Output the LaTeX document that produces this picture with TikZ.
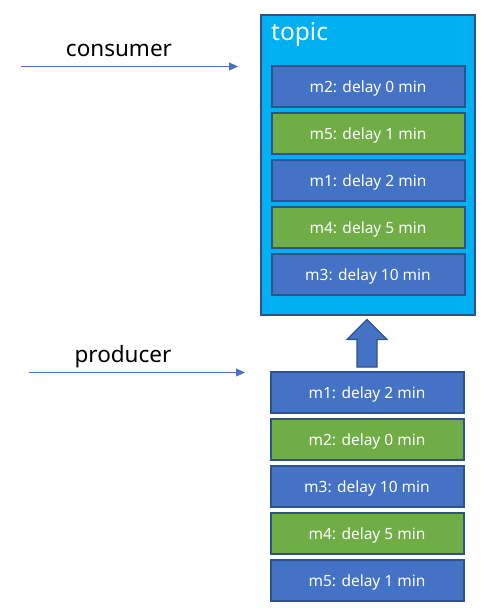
\documentclass[tikz,border=0pt]{standalone}
\usepackage{fontspec}
\setmainfont{Noto Sans}
\usetikzlibrary{arrows.meta}
\definecolor{topicfill}{HTML}{00B0F0}
\definecolor{edgeblue}{HTML}{2F528F}
\definecolor{msgblue}{HTML}{4472C4}
\definecolor{msggreen}{HTML}{70AD47}
\begin{document}
\begin{tikzpicture}[x=1pt,y=-1pt,
  msg/.style={draw=edgeblue,line width=2pt,minimum width=193pt,minimum height=41pt,inner sep=0pt,
    text depth=0pt,text=white,font=\fontsize{15.5}{17}\selectfont},
  bluemsg/.style={msg,fill=msgblue},
  greenmsg/.style={msg,fill=msggreen},
  flow/.style={draw=msgblue,line width=1pt,-{Triangle[length=9pt,width=8pt]}},
  lbl/.style={font=\fontsize{22.5}{26}\selectfont,text=black,inner sep=0pt}]
\useasboundingbox (0,0) rectangle (486,611);
% topic container
\node[draw=edgeblue,fill=topicfill,line width=2pt,minimum width=214pt,minimum height=300pt,inner sep=0pt] (topic) at (367.5,164.5) {};
\node[anchor=base west,inner sep=0pt,text=white,font=\fontsize{24.5}{28}\selectfont] (topiclbl) at (271,40) {topic};
% topic messages
\node[bluemsg]  (t1) at (368,86.5)  {m2: delay 0 min};
\node[greenmsg] (t2) at (368,133.5) {m5: delay 1 min};
\node[bluemsg]  (t3) at (368,180.5) {m1: delay 2 min};
\node[greenmsg] (t4) at (368,227.5) {m4: delay 5 min};
\node[bluemsg]  (t5) at (368,274.5) {m3: delay 10 min};
% producer messages
\node[bluemsg]  (p1) at (367,392.5) {m1: delay 2 min};
\node[greenmsg] (p2) at (367,439.5) {m2: delay 0 min};
\node[bluemsg]  (p3) at (367,486.5) {m3: delay 10 min};
\node[greenmsg] (p4) at (367,533.5) {m4: delay 5 min};
\node[bluemsg]  (p5) at (367,580.5) {m5: delay 1 min};
% block arrow
\draw[draw=edgeblue,fill=msgblue,line width=1.2pt,line join=miter]
  (357,367) -- (357,339.5) -- (347,339.5) -- (367,319.5) -- (387,339.5) -- (377,339.5) -- (377,367) -- cycle;
% consumer
\coordinate (cs) at (21,66.5);
\coordinate (ce) at (238,66.5);
\draw[flow] (cs) -- (ce);
\node[lbl,anchor=base] (cons) at (119,56) {consumer};
% producer
\coordinate (ps) at (28.5,372.5);
\coordinate (pe) at (245,372.5);
\draw[flow] (ps) -- (pe);
\node[lbl,anchor=base] (prod) at (123,362.5) {producer};
\end{tikzpicture}
\end{document}
